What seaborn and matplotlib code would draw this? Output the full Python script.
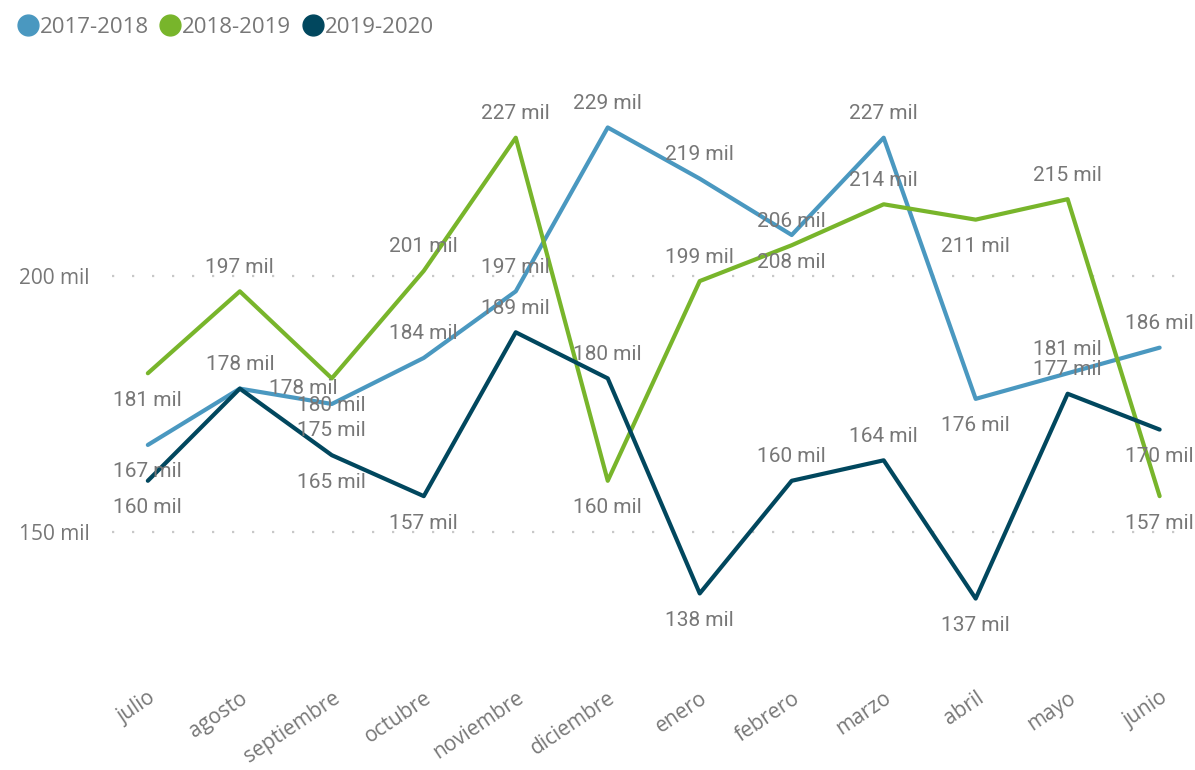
import pandas as pd
import matplotlib.pyplot as plt
import matplotlib.transforms as mtransforms
import seaborn as sns
from matplotlib.lines import Line2D

# -------------------------------
# Datos
# -------------------------------
meses = ["julio", "agosto", "septiembre", "octubre", "noviembre", "diciembre",
         "enero", "febrero", "marzo", "abril", "mayo", "junio"]
temporadas = ["2017-2018", "2018-2019", "2019-2020"]

v_2017_2018 = [167, 178, 175, 184, 197, 229, 219, 208, 227, 176, 181, 186]
v_2018_2019 = [181, 197, 180, 201, 227, 160, 199, 206, 214, 211, 215, 157]
v_2019_2020 = [160, 178, 165, 157, 189, 180, 138, 160, 164, 137, 177, 170]

colores = {"2017-2018": "#4A98C0", "2018-2019": "#78B52B", "2019-2020": "#01475E"}

# where each data label goes: a = above, b = below, r = right
pos_2017_2018 = ["b", "a", "b", "a", "a", "a", "a", "b", "a", "b", "a", "a"]
pos_2018_2019 = ["b", "a", "b", "a", "a", "b", "a", "a", "a", "b", "a", "b"]
pos_2019_2020 = ["b", "r", "b", "b", "a", "a", "b", "a", "a", "b", "a", "b"]

series = {"2017-2018": v_2017_2018, "2018-2019": v_2018_2019, "2019-2020": v_2019_2020}
posiciones = {"2017-2018": pos_2017_2018, "2018-2019": pos_2018_2019, "2019-2020": pos_2019_2020}

filas = []
for t in temporadas:
    for i, m in enumerate(meses):
        filas.append({"temporada": t, "mes": m, "pos": i, "valor": series[t][i]})
df = pd.DataFrame(filas)

# -------------------------------
# Figura
# -------------------------------
sns.set_theme(style="white")
plt.rcParams["font.family"] = ["Open Sans", "DejaVu Sans"]

gris = "#777777"
fig = plt.figure(figsize=(11.95, 7.7), dpi=100)
ax = fig.add_axes([0.0937, 0.1628, 0.9021, 0.7182])

sns.lineplot(data=df, x="pos", y="valor", hue="temporada", hue_order=temporadas,
             palette=colores, linewidth=3, sort=False, legend=False, ax=ax)

ax.set_xlim(-0.39, 11.33)
ax.set_ylim(128, 236)

# data labels
offsets = {"a": (0, 24), "b": (0, -27), "r": (63, 0)}
for t in temporadas:
    for i, v in enumerate(series[t]):
        dx, dy = offsets[posiciones[t][i]]
        ax.annotate(f"{v} mil", (i, v), xytext=(dx, dy), textcoords="offset pixels",
                    ha="center", va="center", fontsize=15, color=gris,
                    family=["Roboto", "DejaVu Sans"], zorder=5)

# axes
ax.set_xticks(range(len(meses)))
ax.set_xticklabels(meses, rotation=34, ha="right", rotation_mode="anchor",
                   fontsize=15, color=gris)
shift = mtransforms.ScaledTranslation(-9 / 100, 0, fig.dpi_scale_trans)
for lbl in ax.get_xticklabels():
    lbl.set_transform(lbl.get_transform() + shift)
ax.set_yticks([150, 200])
ax.set_yticklabels(["150 mil", "200 mil"], fontsize=15, color=gris)
ax.tick_params(axis="x", length=0, pad=31)
ax.tick_params(axis="y", length=0, pad=16)
ax.set_xlabel("")
ax.set_ylabel("")
for s in ax.spines.values():
    s.set_visible(False)
ax.yaxis.grid(True, color="#C8C8C8", linestyle=(0, (1, 8)), linewidth=1.6)
ax.set_axisbelow(True)

# legend
handles = [Line2D([], [], marker="o", linestyle="none", markersize=15,
                  color=colores[t]) for t in temporadas]
fig.legend(handles, temporadas, loc="upper left", bbox_to_anchor=(-0.002, 1.004),
           ncol=3, frameon=False, handlelength=0.9, handletextpad=0.1,
           columnspacing=0.5, fontsize=16, labelcolor=gris)

plt.savefig("out.png", dpi=100)
